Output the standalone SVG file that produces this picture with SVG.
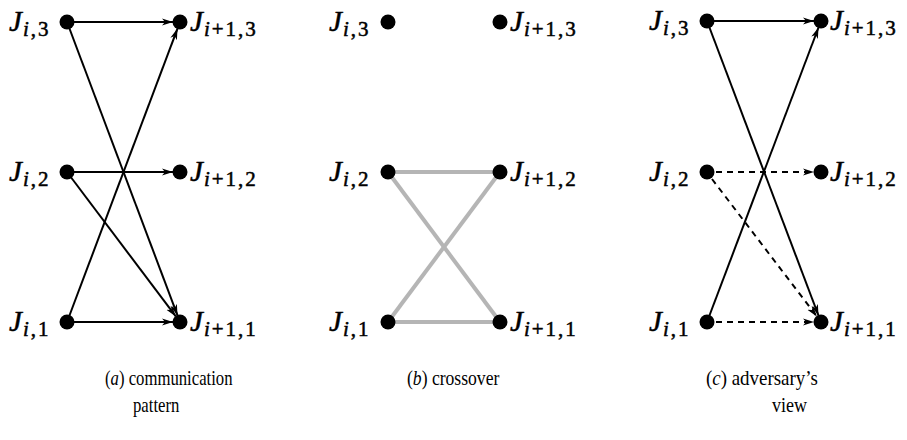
<svg xmlns="http://www.w3.org/2000/svg" width="907" height="440" viewBox="0 0 907 440">
<style>
.lab{font-size:29px;fill:#000;stroke:#000;stroke-width:0.5}
.it{font-style:italic}
.sub{font-size:21px;letter-spacing:2px}
.cap{font-size:22px;fill:#000}
.dot{fill:#000}
.ea{stroke:#000;stroke-width:2;fill:none;marker-end:url(#ah)}
.d{stroke:#000;stroke-width:2;fill:none;stroke-dasharray:6 5;marker-end:url(#ah)}
.g{stroke:#b5b5b5;stroke-width:4;fill:none}
</style>
<defs>
<marker id="ah" markerUnits="userSpaceOnUse" markerWidth="12" markerHeight="10" refX="11" refY="4" orient="auto">
<path d="M0,0.5 L11,4 L0,7.5 L3,4 z" fill="#000"/>
</marker>
</defs>
<g id="connectors">
<line class="ea" x1="67" y1="22" x2="173" y2="22"/>
<line class="ea" x1="67" y1="22" x2="177.5" y2="315.4"/>
<line class="ea" x1="67" y1="172" x2="173" y2="172"/>
<line class="ea" x1="67" y1="172" x2="175.8" y2="316.4"/>
<line class="ea" x1="67" y1="322" x2="173" y2="322"/>
<line class="ea" x1="67" y1="322" x2="177.5" y2="28.6"/>
<line class="g" x1="388" y1="172" x2="500" y2="172"/>
<line class="g" x1="388" y1="172" x2="500" y2="322"/>
<line class="g" x1="388" y1="322" x2="500" y2="172"/>
<line class="g" x1="388" y1="322" x2="500" y2="322"/>
<line class="ea" x1="707" y1="21" x2="814" y2="21"/>
<line class="ea" x1="707" y1="21" x2="818.5" y2="315.5"/>
<line class="ea" x1="707" y1="322" x2="818.5" y2="27.5"/>
<line class="d" x1="716" y1="172" x2="814" y2="172"/>
<line class="d" x1="712" y1="179" x2="816.8" y2="316.4"/>
<line class="d" x1="716" y1="322" x2="814" y2="322"/>
</g>
<g font-family="Liberation Serif, serif">
<g id="a-J13"><circle class="dot" cx="67" cy="22" r="7.5"/><text class="lab" x="9" y="31"><tspan class="it">J</tspan><tspan class="sub" dx="1" dy="5"><tspan class="it">i</tspan>,3</tspan></text></g>
<g id="a-J12"><circle class="dot" cx="67" cy="172" r="7.5"/><text class="lab" x="9" y="181"><tspan class="it">J</tspan><tspan class="sub" dx="1" dy="5"><tspan class="it">i</tspan>,2</tspan></text></g>
<g id="a-J11"><circle class="dot" cx="67" cy="322" r="7.5"/><text class="lab" x="9" y="331"><tspan class="it">J</tspan><tspan class="sub" dx="1" dy="5"><tspan class="it">i</tspan>,1</tspan></text></g>
<g id="a-J23"><circle class="dot" cx="180" cy="22" r="7.5"/><text class="lab" x="190" y="31"><tspan class="it">J</tspan><tspan class="sub" dx="1" dy="5"><tspan class="it">i</tspan>+1,3</tspan></text></g>
<g id="a-J22"><circle class="dot" cx="180" cy="172" r="7.5"/><text class="lab" x="190" y="181"><tspan class="it">J</tspan><tspan class="sub" dx="1" dy="5"><tspan class="it">i</tspan>+1,2</tspan></text></g>
<g id="a-J21"><circle class="dot" cx="180" cy="322" r="7.5"/><text class="lab" x="190" y="331"><tspan class="it">J</tspan><tspan class="sub" dx="1" dy="5"><tspan class="it">i</tspan>+1,1</tspan></text></g>

<g id="b-J13"><circle class="dot" cx="388" cy="22" r="7.5"/><text class="lab" x="329" y="31"><tspan class="it">J</tspan><tspan class="sub" dx="1" dy="5"><tspan class="it">i</tspan>,3</tspan></text></g>
<g id="b-J12"><circle class="dot" cx="388" cy="172" r="7.5"/><text class="lab" x="329" y="181"><tspan class="it">J</tspan><tspan class="sub" dx="1" dy="5"><tspan class="it">i</tspan>,2</tspan></text></g>
<g id="b-J11"><circle class="dot" cx="388" cy="322" r="7.5"/><text class="lab" x="329" y="331"><tspan class="it">J</tspan><tspan class="sub" dx="1" dy="5"><tspan class="it">i</tspan>,1</tspan></text></g>
<g id="b-J23"><circle class="dot" cx="500" cy="22" r="7.5"/><text class="lab" x="510" y="31"><tspan class="it">J</tspan><tspan class="sub" dx="1" dy="5"><tspan class="it">i</tspan>+1,3</tspan></text></g>
<g id="b-J22"><circle class="dot" cx="500" cy="172" r="7.5"/><text class="lab" x="510" y="181"><tspan class="it">J</tspan><tspan class="sub" dx="1" dy="5"><tspan class="it">i</tspan>+1,2</tspan></text></g>
<g id="b-J21"><circle class="dot" cx="500" cy="322" r="7.5"/><text class="lab" x="510" y="331"><tspan class="it">J</tspan><tspan class="sub" dx="1" dy="5"><tspan class="it">i</tspan>+1,1</tspan></text></g>

<g id="c-J13"><circle class="dot" cx="707" cy="21" r="7.5"/><text class="lab" x="649" y="30"><tspan class="it">J</tspan><tspan class="sub" dx="1" dy="5"><tspan class="it">i</tspan>,3</tspan></text></g>
<g id="c-J12"><circle class="dot" cx="707" cy="172" r="7.5"/><text class="lab" x="649" y="181"><tspan class="it">J</tspan><tspan class="sub" dx="1" dy="5"><tspan class="it">i</tspan>,2</tspan></text></g>
<g id="c-J11"><circle class="dot" cx="707" cy="322" r="7.5"/><text class="lab" x="649" y="331"><tspan class="it">J</tspan><tspan class="sub" dx="1" dy="5"><tspan class="it">i</tspan>,1</tspan></text></g>
<g id="c-J23"><circle class="dot" cx="821" cy="21" r="7.5"/><text class="lab" x="830" y="30"><tspan class="it">J</tspan><tspan class="sub" dx="1" dy="5"><tspan class="it">i</tspan>+1,3</tspan></text></g>
<g id="c-J22"><circle class="dot" cx="821" cy="172" r="7.5"/><text class="lab" x="830" y="181"><tspan class="it">J</tspan><tspan class="sub" dx="1" dy="5"><tspan class="it">i</tspan>+1,2</tspan></text></g>
<g id="c-J21"><circle class="dot" cx="821" cy="322" r="7.5"/><text class="lab" x="830" y="331"><tspan class="it">J</tspan><tspan class="sub" dx="1" dy="5"><tspan class="it">i</tspan>+1,1</tspan></text></g>
</g>
<g id="captions" font-family="Liberation Serif, serif">
<text class="cap" transform="translate(105 385) scale(0.76 1)">(<tspan class="it">a</tspan>) communication</text>
<text class="cap" transform="translate(133 412) scale(0.76 1)">pattern</text>
<text class="cap" transform="translate(407 385) scale(0.8 1)">(<tspan class="it">b</tspan>) crossover</text>
<text class="cap" transform="translate(706 385) scale(0.86 1)">(<tspan class="it">c</tspan>) adversary’s</text>
<text class="cap" transform="translate(772 412) scale(0.82 1)">view</text>
</g>
</svg>
